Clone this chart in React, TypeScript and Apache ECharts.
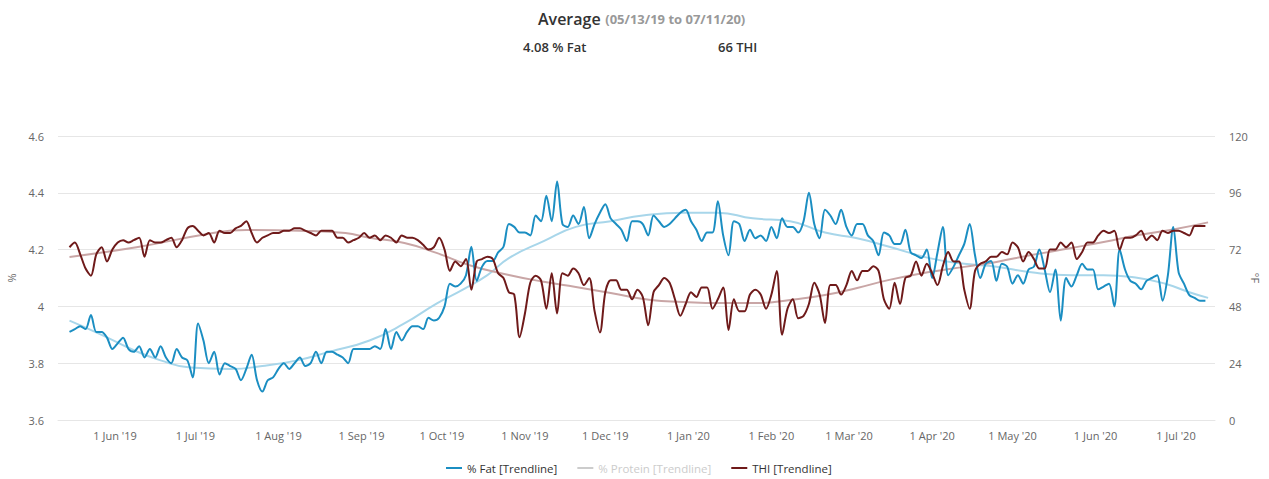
import React, { useEffect, useRef } from "react";
import * as echarts from "echarts";

const MONTHS = ["Jan", "Feb", "Mar", "Apr", "May", "Jun", "Jul", "Aug", "Sep", "Oct", "Nov", "Dec"];

// samples every 2 days
const START_Y = 2019, START_M = 4, START_D = 15, STEP_DAYS = 2;

const fatValues = [
  3.91, 3.92, 3.93, 3.92, 3.97, 3.91, 3.91, 3.89, 3.85, 3.87,
  3.89, 3.85, 3.84, 3.86, 3.82, 3.85, 3.82, 3.86, 3.82, 3.80,
  3.85, 3.82, 3.81, 3.75, 3.94, 3.88, 3.80, 3.84, 3.76, 3.80,
  3.79, 3.78, 3.74, 3.78, 3.83, 3.74, 3.70, 3.74, 3.75, 3.78,
  3.80, 3.78, 3.80, 3.82, 3.79, 3.80, 3.84, 3.80, 3.84, 3.84,
  3.83, 3.82, 3.80, 3.85, 3.85, 3.85, 3.85, 3.86, 3.85, 3.92,
  3.85, 3.91, 3.88, 3.91, 3.93, 3.93, 3.92, 3.96, 3.95, 3.96,
  4.00, 4.08, 4.07, 4.08, 4.11, 4.21, 4.09, 4.14, 4.16, 4.16,
  4.19, 4.21, 4.29, 4.28, 4.26, 4.26, 4.25, 4.32, 4.30, 4.39,
  4.30, 4.44, 4.29, 4.28, 4.32, 4.29, 4.35, 4.24, 4.29, 4.33,
  4.36, 4.31, 4.29, 4.27, 4.23, 4.30, 4.30, 4.29, 4.25, 4.32,
  4.30, 4.28, 4.29, 4.31, 4.33, 4.34, 4.30, 4.27, 4.23, 4.26,
  4.26, 4.37, 4.25, 4.18, 4.30, 4.29, 4.23, 4.27, 4.24, 4.25,
  4.23, 4.28, 4.24, 4.31, 4.28, 4.28, 4.26, 4.30, 4.40, 4.29,
  4.24, 4.34, 4.32, 4.29, 4.34, 4.28, 4.25, 4.29, 4.29, 4.25,
  4.23, 4.18, 4.26, 4.25, 4.22, 4.22, 4.27, 4.19, 4.18, 4.17,
  4.20, 4.10, 4.19, 4.28, 4.11, 4.14, 4.18, 4.22, 4.29, 4.18,
  4.10, 4.15, 4.16, 4.09, 4.15, 4.14, 4.08, 4.11, 4.08, 4.13,
  4.14, 4.20, 4.13, 4.05, 4.13, 3.95, 4.10, 4.07, 4.11, 4.15,
  4.13, 4.13, 4.06, 4.07, 4.08, 4.00, 4.20, 4.13, 4.09, 4.08,
  4.06, 4.09, 4.10, 4.11, 4.02, 4.11, 4.28, 4.12, 4.08, 4.04,
  4.03, 4.02, 4.02,
];

const thiValues = [
  73, 75, 70, 64, 61, 70, 73, 67, 72, 75,
  76, 75, 76, 77, 69, 76, 75, 75, 76, 77,
  73, 76, 81, 82, 80, 78, 79, 75, 80, 79,
  79, 81, 82, 84, 79, 75, 77, 78, 79, 79,
  80, 80, 81, 81, 80, 79, 78, 80, 80, 80,
  77, 77, 75, 76, 77, 79, 77, 78, 76, 78,
  77, 75, 78, 77, 77, 76, 74, 72, 73, 77,
  72, 63, 67, 65, 68, 55, 67, 68, 69, 68,
  62, 60, 54, 53, 35, 45, 58, 61, 59, 47,
  62, 45, 62, 61, 64, 62, 57, 60, 46, 37,
  54, 59, 59, 55, 55, 51, 55, 52, 40, 54,
  57, 60, 58, 51, 44, 49, 54, 52, 56, 56,
  47, 51, 56, 38, 51, 46, 46, 53, 55, 53,
  47, 53, 63, 36, 47, 51, 43, 44, 49, 58,
  53, 41, 57, 57, 53, 57, 63, 59, 63, 63,
  65, 63, 51, 47, 58, 49, 60, 61, 67, 61,
  66, 62, 57, 65, 71, 67, 67, 55, 47, 63,
  66, 67, 69, 69, 71, 70, 75, 73, 67, 71,
  68, 64, 64, 72, 72, 75, 73, 75, 68, 71,
  75, 75, 78, 80, 79, 80, 72, 77, 77, 78,
  80, 76, 78, 76, 80, 79, 80, 80, 79, 78,
  82, 82, 82,
];

const fatTrendDates = [
  "2019-05-15", "2019-05-27", "2019-06-07", "2019-06-18", "2019-06-29", "2019-07-14",
  "2019-07-26", "2019-08-08", "2019-08-20", "2019-09-04", "2019-09-17", "2019-09-29",
  "2019-10-09", "2019-10-18", "2019-10-26", "2019-11-08", "2019-11-20", "2019-12-03",
  "2019-12-15", "2019-12-30", "2020-01-12", "2020-01-25", "2020-02-08", "2020-02-21",
  "2020-03-04", "2020-03-16", "2020-03-31", "2020-04-13", "2020-04-25", "2020-05-08",
  "2020-05-23", "2020-06-04", "2020-06-17", "2020-06-27", "2020-07-06", "2020-07-13",
];
const fatTrendValues = [
  3.95, 3.9, 3.85, 3.81, 3.785, 3.78,
  3.79, 3.81, 3.84, 3.88, 3.94, 4.01,
  4.06, 4.11, 4.17, 4.23, 4.28, 4.3,
  4.32, 4.33, 4.33, 4.31, 4.3, 4.26,
  4.24, 4.21, 4.17, 4.15, 4.14, 4.12,
  4.11, 4.11, 4.1, 4.08, 4.05, 4.03,
];

const thiTrendDates = [
  "2019-05-15", "2019-06-09", "2019-07-05", "2019-07-20", "2019-08-09", "2019-08-26",
  "2019-09-04", "2019-09-17", "2019-09-29", "2019-10-11", "2019-10-26", "2019-11-08",
  "2019-11-20", "2019-12-03", "2019-12-18", "2019-12-30", "2020-01-12", "2020-01-27",
  "2020-02-08", "2020-02-21", "2020-03-04", "2020-03-16", "2020-03-31", "2020-04-13",
  "2020-04-25", "2020-05-08", "2020-05-23", "2020-06-04", "2020-06-17", "2020-06-29",
  "2020-07-13",
];
const thiTrendValues = [
  68.9, 73, 78.5, 80.3, 80, 79,
  77, 74.8, 70.6, 65.5, 61.3, 58.4,
  56.2, 53.7, 50.7, 49.9, 49.4, 49.4,
  50.7, 52.8, 55.8, 59.2, 62.5, 64.7,
  66.8, 69.7, 72.7, 75.2, 78.2, 80.3,
  83.5,
];

const proteinValues: number[] = [];

const leftTicks = { min: 3.6, max: 4.6, interval: 0.2 };
const rightTicks = { min: 0, max: 120, interval: 24 };

const FONT = "'Open Sans', 'Noto Sans', sans-serif";

function sampleTime(i: number) {
  return new Date(START_Y, START_M, START_D + i * STEP_DAYS).getTime();
}

function fmtDate(v: number) {
  const d = new Date(v);
  return `${d.getDate()} ${MONTHS[d.getMonth()]} '${String(d.getFullYear()).slice(2)}`;
}

export default function App() {
  const ref = useRef<HTMLDivElement>(null);
  useEffect(() => {
    if (!ref.current) return;
    const chart = echarts.init(ref.current, null, { renderer: "svg" });
    const fatData = fatValues.map((v, i) => [sampleTime(i), v]);
    const thiData = thiValues.map((v, i) => [sampleTime(i), v]);
    const fatTrend = fatTrendDates.map((d, i) => [d, fatTrendValues[i]]);
    const thiTrend = thiTrendDates.map((d, i) => [d, thiTrendValues[i]]);

    const FAT = "% Fat [Trendline]";
    const PROT = "% Protein [Trendline]";
    const THI = "THI [Trendline]";

    chart.setOption({
      animation: false,
      textStyle: { fontFamily: FONT },
      title: {
        text: "{a|Average} {b|(05/13/19 to 07/11/20)}",
        left: 533,
        top: 5,
        textStyle: {
          rich: {
            a: { fontSize: 16, fontWeight: 600, color: "#333", fontFamily: FONT },
            b: { fontSize: 13, color: "#999", fontFamily: FONT },
          },
        },
      },
      graphic: [
        {
          type: "text",
          x: 523,
          y: 47,
          style: { text: "4.08 % Fat", font: `600 13px ${FONT}`, fill: "#333", verticalAlign: "middle" },
        },
        {
          type: "text",
          x: 718,
          y: 47,
          style: { text: "66 THI", font: `600 13px ${FONT}`, fill: "#333", verticalAlign: "middle" },
        },
      ],
      legend: {
        left: 441,
        top: 457,
        itemGap: 20,
        itemWidth: 16,
        itemHeight: 2,
        icon: "rect",
        textStyle: { fontSize: 11.5, color: "#333", fontFamily: FONT },
        inactiveColor: "#cccccc",
        data: [FAT, PROT, THI],
        selected: { [PROT]: false },
      },
      grid: { left: 58, right: 54, top: 136, bottom: 59, outerBoundsMode: "none", containLabel: false },
      xAxis: {
        type: "time",
        min: new Date(2019, 4, 10, 17).getTime(),
        max: new Date(2020, 6, 15, 14).getTime(),
        splitNumber: 14,
        minInterval: 28 * 86400000,
        maxInterval: 31 * 86400000,
        axisLine: { show: true, lineStyle: { color: "#e6e6e6" } },
        axisTick: { show: false },
        splitLine: { show: false },
        axisLabel: {
          formatter: (v: number) => fmtDate(v),
          color: "#666",
          fontSize: 11,
          margin: 10,
          fontFamily: FONT,
          hideOverlap: false,
        },
      },
      yAxis: [
        {
          type: "value",
          min: leftTicks.min,
          max: leftTicks.max,
          interval: leftTicks.interval,
          name: "%",
          nameLocation: "middle",
          nameGap: 41,
          nameTextStyle: { color: "#666", fontSize: 11, fontFamily: FONT },
          axisLine: { show: false },
          axisTick: { show: false },
          splitLine: { lineStyle: { color: "#e6e6e6" } },
          axisLabel: { color: "#666", fontSize: 11, margin: 14, fontFamily: FONT },
        },
        {
          type: "value",
          position: "right",
          min: rightTicks.min,
          max: rightTicks.max,
          interval: rightTicks.interval,
          name: "°F",
          nameLocation: "middle",
          nameGap: 35,
          nameRotate: -90,
          nameMoveOverlap: false,
          nameTextStyle: { color: "#666", fontSize: 11, fontFamily: FONT },
          axisLine: { show: false },
          axisTick: { show: false },
          splitLine: { show: false },
          axisLabel: { color: "#666", fontSize: 11, margin: 14, fontFamily: FONT },
        },
      ],
      series: [
        {
          name: FAT,
          type: "line",
          yAxisIndex: 0,
          data: fatTrend,
          symbol: "none",
          smooth: true,
          z: 2,
          color: "#1b8ec2",
          lineStyle: { color: "#a8d6ea", width: 2 },
        },
        {
          name: THI,
          type: "line",
          yAxisIndex: 1,
          data: thiTrend,
          symbol: "none",
          smooth: true,
          z: 2,
          color: "#6f1a1a",
          lineStyle: { color: "#c9a6a6", width: 2 },
        },
        {
          name: FAT,
          type: "line",
          yAxisIndex: 0,
          data: fatData,
          symbol: "none",
          smooth: 0.3,
          z: 3,
          color: "#1b8ec2",
          lineStyle: { color: "#1b8ec2", width: 2 },
        },
        {
          name: PROT,
          type: "line",
          yAxisIndex: 0,
          data: proteinValues,
          symbol: "none",
          color: "#9fa8b0",
        },
        {
          name: THI,
          type: "line",
          yAxisIndex: 1,
          data: thiData,
          symbol: "none",
          smooth: 0.3,
          z: 3,
          color: "#6f1a1a",
          lineStyle: { color: "#6f1a1a", width: 2 },
        },
      ],
    });
    return () => chart.dispose();
  }, []);
  return (
    <div
      ref={ref}
      style={{ position: "absolute", left: 0, top: 0, width: 1269, height: 479, background: "#fff" }}
    />
  );
}
